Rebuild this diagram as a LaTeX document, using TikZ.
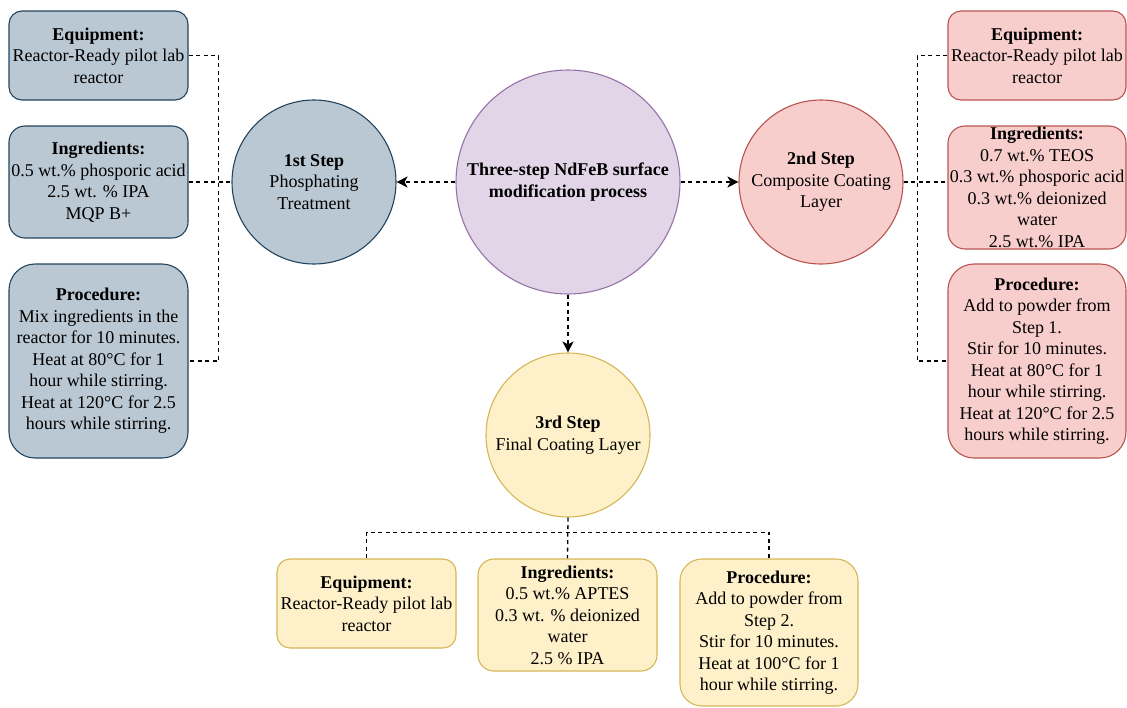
\documentclass[tikz,border=0pt]{standalone}
\usepackage{fontspec}
\setmainfont{Liberation Serif}
\usetikzlibrary{arrows.meta}
\definecolor{bfill}{HTML}{BAC8D3}
\definecolor{bdraw}{HTML}{23445D}
\definecolor{rfill}{HTML}{F8CECC}
\definecolor{rdraw}{HTML}{B85450}
\definecolor{yfill}{HTML}{FEF0C8}
\definecolor{ydraw}{HTML}{D6B656}
\definecolor{pfill}{HTML}{E1D5E7}
\definecolor{pdraw}{HTML}{9673A6}
\begin{document}
\begin{tikzpicture}[x=1pt,y=-1pt,
  base/.style={draw, line width=1.1pt, align=center, inner sep=0pt, font=\fontsize{18}{21.5}\selectfont},
  box/.style={base, rectangle, minimum width=179pt},
  blue/.style={fill=bfill, draw=bdraw},
  red/.style={fill=rfill, draw=rdraw},
  yellow/.style={fill=yfill, draw=ydraw},
  purple/.style={fill=pfill, draw=pdraw},
  stepcirc/.style={base, circle, minimum size=164pt},
  dashline/.style={draw=black, line width=1.3pt, dash pattern=on 4pt off 3.5pt},
  arr/.style={dashline, -{Stealth[length=11pt, width=11pt, inset=3pt]}}
]
\useasboundingbox (0,0) rectangle (1127,707);

% left column
\node[box, blue, minimum height=89pt, rounded corners=13pt] (equip1) at (98.5,55.5)
  {\textbf{Equipment:}\\Reactor-Ready pilot lab\\reactor};
\node[box, blue, minimum height=112pt, rounded corners=16pt] (ing1) at (98.5,182)
  {\textbf{Ingredients:}\\0.5 wt.\% phosporic acid\\2.5 wt. \% IPA\\MQP B+};
\node[box, blue, minimum height=194pt, rounded corners=26pt] (proc1) at (98.5,361)
  {\textbf{Procedure:}\\Mix ingredients in the\\reactor for 10 minutes.\\Heat at 80°C for 1\\hour while stirring.\\Heat at 120°C for 2.5\\hours while stirring.};

% circles
\node[stepcirc, blue] (c1) at (314,182) {\textbf{1st Step}\\Phosphating\\Treatment};
\node[base, circle, purple, minimum size=224pt] (c0) at (568,182)
  {\textbf{Three-step NdFeB surface}\\\textbf{modification process}};
\node[stepcirc, red] (c2) at (821,182) {\textbf{2nd Step}\\Composite Coating\\Layer};
\node[stepcirc, yellow] (c3) at (568,435) {\textbf{3rd Step}\\Final Coating Layer};

% right column
\node[box, red, minimum width=178pt, minimum height=89pt, rounded corners=13pt] (equip2) at (1037,55.5)
  {\textbf{Equipment:}\\Reactor-Ready pilot lab\\reactor};
\node[box, red, minimum width=178pt, minimum height=123pt, rounded corners=17pt] (ing2) at (1037,187.5)
  {\textbf{Ingredients:}\\0.7 wt.\% TEOS\\0.3 wt.\% phosporic acid\\0.3 wt.\% deionized\\water\\2.5 wt.\% IPA};
\node[box, red, minimum width=178pt, minimum height=194pt, rounded corners=26pt] (proc2) at (1037,361)
  {\textbf{Procedure:}\\Add to powder from\\Step 1.\\Stir for 10 minutes.\\Heat at 80°C for 1\\hour while stirring.\\Heat at 120°C for 2.5\\hours while stirring.};

% bottom row
\node[box, yellow, minimum height=89pt, rounded corners=13pt] (equip3) at (366.5,603.5)
  {\textbf{Equipment:}\\Reactor-Ready pilot lab\\reactor};
\node[box, yellow, minimum height=112pt, rounded corners=16pt] (ing3) at (567.5,615)
  {\textbf{Ingredients:}\\0.5 wt.\% APTES\\0.3 wt. \% deionized\\water\\2.5 \% IPA};
\node[box, yellow, minimum width=178pt, minimum height=147pt, rounded corners=22pt] (proc3) at (769,632.5)
  {\textbf{Procedure:}\\Add to powder from\\Step 2.\\Stir for 10 minutes.\\Heat at 100°C for 1\\hour while stirring.};

% connectors
\draw[arr] (c0.west) -- (c1.east);
\draw[arr] (c0.east) -- (c2.west);
\draw[arr] (c0.south) -- (c3.north);

\draw[dashline] (equip1.east) -- ++(30,0) |- (proc1.east);
\draw[dashline] (ing1.east) -- (c1.west);

\draw[dashline] (equip2.west) -- ++(-30,0) |- (proc2.west);
\draw[dashline] (c2.east) -- (c2.east -| ing2.west);

\draw[dashline] (c3.south) -- (ing3.north);
\draw[dashline] (equip3.north) -- ++(0,-26) -| (proc3.north);
\end{tikzpicture}
\end{document}
